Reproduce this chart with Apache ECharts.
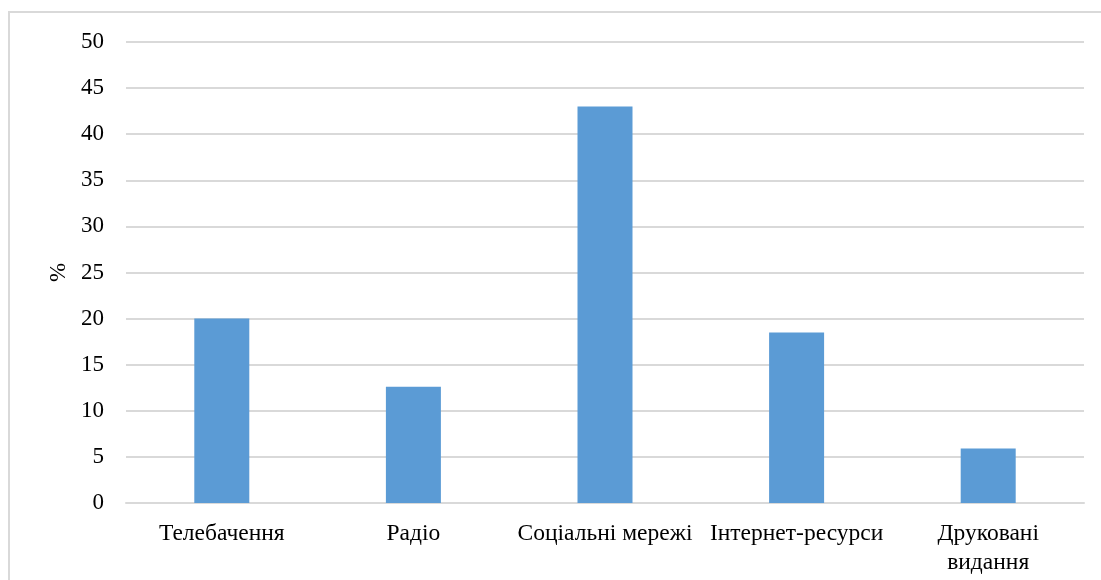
<!DOCTYPE html>
<html>
<head>
<meta charset="utf-8">
<script src="https://cdn.jsdelivr.net/npm/echarts@6/dist/echarts.min.js"></script>
<style>
  html, body { margin: 0; padding: 0; background: #fff; }
  #chart { width: 1101px; height: 580px; }
</style>
</head>
<body>
<div id="chart"></div>
<script>
// Sources of information, share of respondents (%)
const categories = ['Телебачення', 'Радіо', 'Соціальні мережі', 'Інтернет-ресурси', 'Друковані\nвидання'];
const shares = [20, 12.6, 43, 18.5, 5.9];
const axisName = '%';

const font = '"Liberation Serif", "Times New Roman", serif';
const chart = echarts.init(document.getElementById('chart'), null, { renderer: 'canvas' });

chart.setOption({
  animation: false,
  backgroundColor: '#ffffff',
  graphic: [{
    type: 'rect',
    z: -1,
    shape: { x: 9, y: 12, width: 1200, height: 700 },
    style: { fill: 'none', stroke: '#d9d9d9', lineWidth: 2 }
  }],
  grid: { left: 126, right: 17, top: 42, bottom: 77, containLabel: false },
  xAxis: {
    type: 'category',
    data: categories,
    axisLine: { show: true, lineStyle: { color: '#d9d9d9', width: 2 } },
    axisTick: { show: false },
    axisLabel: {
      interval: 0,
      color: '#000',
      fontFamily: font,
      fontSize: 23.5,
      lineHeight: 29,
      margin: 16
    }
  },
  yAxis: {
    type: 'value',
    min: 0,
    max: 50,
    interval: 5,
    name: axisName,
    nameLocation: 'middle',
    nameGap: 50,
    nameRotate: 90,
    nameTextStyle: { color: '#000', fontFamily: font, fontSize: 23 },
    axisLine: { show: false },
    axisTick: { show: false },
    splitLine: { lineStyle: { color: '#d9d9d9', width: 2 } },
    axisLabel: { color: '#000', fontFamily: font, fontSize: 23, margin: 22 }
  },
  series: [{
    type: 'bar',
    data: shares,
    barWidth: 55,
    itemStyle: { color: '#5B9BD5' }
  }]
});
</script>
</body>
</html>
